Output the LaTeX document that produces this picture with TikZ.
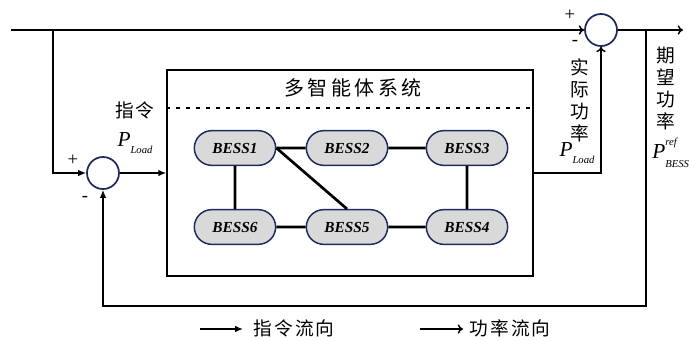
\documentclass[tikz,border=0pt]{standalone}
\usepackage{fontspec}
\setmainfont{Liberation Serif}
\newfontfamily\cjk{Noto Sans CJK SC}
\usetikzlibrary{arrows.meta,shapes.misc}
\definecolor{navy}{HTML}{1F2A5C}
\definecolor{nodegray}{HTML}{D9D9D9}
\newcommand\PLoad{\textit{P}\raisebox{-0.7ex}{\fontsize{8}{8}\selectfont\textit{Load}}}
\newcommand\PRef{\textit{P}\rlap{\raisebox{1.3ex}{\fontsize{8}{8}\selectfont\textit{ref}}}\raisebox{-0.9ex}{\fontsize{8}{8}\selectfont\textit{BESS}}}
\begin{document}
\begin{tikzpicture}[x=0.75pt,y=-0.75pt,
  wire/.style={line width=1.1pt},
  cmd/.style={wire,-{Latex[length=6pt,width=5pt]}},
  power/.style={wire,-{To[length=4pt,width=7pt]}},
  sumnode/.style={circle,draw=navy,line width=1.3pt,minimum size=24pt,inner sep=0pt},
  bess/.style={rounded rectangle,draw=navy,line width=1.1pt,fill=nodegray,minimum width=63pt,minimum height=26pt,inner sep=1pt,font=\fontsize{11.5}{12}\selectfont\bfseries\itshape},
  link/.style={line width=2pt},
  sysbox/.style={draw,line width=1.1pt,minimum width=274.5pt,minimum height=154.5pt,inner sep=0pt},
  zh/.style={font=\cjk\fontsize{14}{16.5}\selectfont,align=center,inner sep=0pt},
  pm/.style={font=\fontsize{14}{14}\selectfont,inner sep=0pt},
  plab/.style={font=\fontsize{16}{16}\selectfont,inner sep=0pt}]
\useasboundingbox (0,0) rectangle (689,340);

% system box
\node[sysbox] (sys) at (350,173) {};
\draw[dash pattern=on 3pt off 4.5pt,line width=0.9pt] (sys.west |- 0,108) coordinate (dl) -- (sys.east |- 0,108) coordinate (dr);
\node[zh,font=\cjk\fontsize{15}{16}\selectfont\addfontfeature{LetterSpace=18}] (title) at (353,88) {多智能体系统};

% BESS nodes
\node[bess] (b1) at (235,148) {BESS1};
\node[bess] (b2) at (347,148) {BESS2};
\node[bess] (b3) at (467,148) {BESS3};
\node[bess] (b6) at (235,227) {BESS6};
\node[bess] (b5) at (347,227) {BESS5};
\node[bess] (b4) at (467,227) {BESS4};
\draw[link] (b1) -- (b2);
\draw[link] (b2) -- (b3);
\draw[link] (b3) -- (b4);
\draw[link] (b1) -- (b6);
\draw[link] (b6) -- (b5);
\draw[link] (b5) -- (b4);
\draw[link] (b1.east) -- (b5.north);

% summing junctions
\node[sumnode] (sumL) at (103,173) {};
\node[sumnode] (sumR) at (601,30) {};

% coordinates
\coordinate (start) at (11,30);
\coordinate (br1) at (53,30);
\coordinate (br2) at (646,30);
\coordinate (out) at (683,30);
\coordinate (fb) at (646,306);
\coordinate (fbl) at (103,306);
\coordinate (act) at (601,173);

% connectors
\draw[power] (start) -- (sumR.west);
\draw[cmd] (br1) |- (sumL.west);
\draw[cmd] (sumL.east) -- (sys.west |- sumL);
\draw[power] (sys.east |- act) -- (act) -- (sumR.south);
\draw[power] (sumR.east) -- (out);
\draw[cmd] (br2) -- (fb) -- (fbl) -- (sumL.south);

% signs
\node[pm] (p1) at (73,160) {+};
\node[pm] (m1) at (85,199) {-};
\node[pm] (p2) at (570,15) {+};
\node[pm] (m2) at (575,43) {-};

% labels
\node[zh,font=\cjk\fontsize{14}{16}\selectfont\addfontfeature{LetterSpace=5}] (cmdlab) at (135,110) {指令};
\node[plab] (pl1) at (135,143) {\PLoad};
\node[zh] (actlab) at (580,100.5) {实\\际\\功\\率};
\node[plab] (pl2) at (577,153) {\PLoad};
\node[zh] (reflab) at (666,88.5) {期\\望\\功\\率};
\node[plab,anchor=west] (pref) at (652,153) {\PRef};

% legend
\coordinate (lg1a) at (200,329);
\coordinate (lg1b) at (243,329);
\coordinate (lg2a) at (420,329);
\coordinate (lg2b) at (463,329);
\draw[cmd] (lg1a) -- (lg1b);
\draw[power] (lg2a) -- (lg2b);
\node[zh,anchor=west,font=\cjk\fontsize{14}{16}\selectfont\addfontfeature{LetterSpace=12}] (lgt1) at (253,328.5) {指令流向};
\node[zh,anchor=west,font=\cjk\fontsize{14}{16}\selectfont\addfontfeature{LetterSpace=12}] (lgt2) at (469,328.5) {功率流向};
\end{tikzpicture}
\end{document}
